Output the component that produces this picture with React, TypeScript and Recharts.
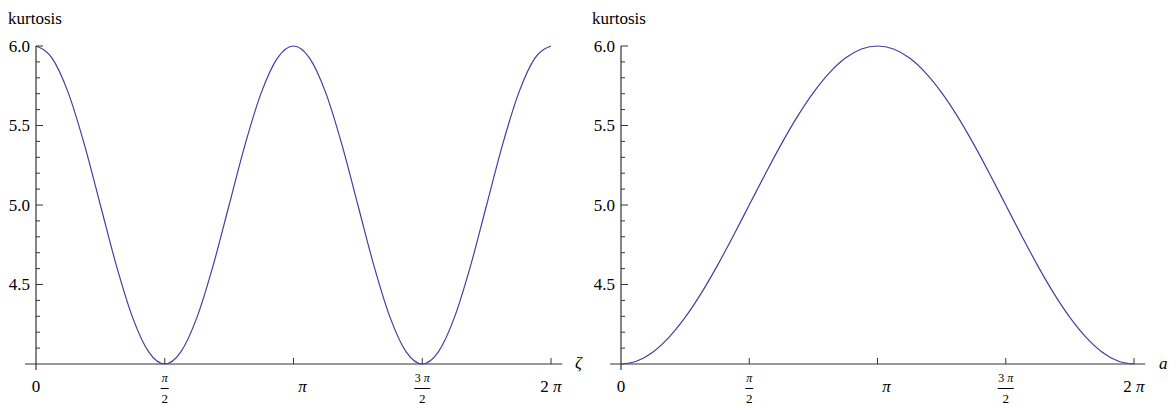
import React from 'react';
import { LineChart, Line, XAxis, YAxis, ReferenceLine } from 'recharts';

const PI = Math.PI;

// sample grid: 0 .. 2π in steps of π/16
const angles = Array.from({ length: 33 }, (_, i) => (i * PI) / 16);

// kurtosis as a function of ζ
const kurtosisZeta = [
  6.0, 5.924, 5.707, 5.383, 5.0, 4.617, 4.293, 4.076, 4.0, 4.076, 4.293, 4.617, 5.0, 5.383, 5.707, 5.924,
  6.0, 5.924, 5.707, 5.383, 5.0, 4.617, 4.293, 4.076, 4.0, 4.076, 4.293, 4.617, 5.0, 5.383, 5.707, 5.924,
  6.0,
];

// kurtosis as a function of a
const kurtosisA = [
  4.0, 4.019, 4.076, 4.169, 4.293, 4.444, 4.617, 4.805, 5.0, 5.195, 5.383, 5.556, 5.707, 5.831, 5.924, 5.981,
  6.0, 5.981, 5.924, 5.831, 5.707, 5.556, 5.383, 5.195, 5.0, 4.805, 4.617, 4.444, 4.293, 4.169, 4.076, 4.019,
  4.0,
];

const xTickValues = [0, PI / 2, PI, (3 * PI) / 2, 2 * PI];
const xTickLabels = ['0', 'π/2', 'π', '3 π/2', '2 π'];

const yMajorTicks = [4.5, 5.0, 5.5, 6.0];
const yMinorTicks = [4.1, 4.2, 4.3, 4.4, 4.6, 4.7, 4.8, 4.9, 5.1, 5.2, 5.3, 5.4, 5.6, 5.7, 5.8, 5.9];
const yTicks = [...yMinorTicks, ...yMajorTicks].sort((p, q) => p - q);

const FONT = "'Liberation Serif', 'Times New Roman', serif";
const AXIS = '#333';
const CURVE = '#4040a0';

// renders "π" italic inside a label string
const withPi = (s: string) =>
  s.split('π').flatMap((part, i) =>
    i === 0 ? [part] : [<tspan key={i} fontStyle="italic">π</tspan>, part]
  );

const XTick = (props: any) => {
  const { x, y, index, payload } = props;
  const label = xTickLabels[index] ?? String(payload.value);
  const [num, den] = label.split('/');
  const dx = label === 'π' ? 9 : 0;
  return (
    <g fontFamily={FONT} fill="#000">
      {payload.value !== 0 && <line x1={x} y1={y} x2={x} y2={y - 6} stroke={AXIS} />}
      {den ? (
        <>
          <text x={x} y={y + 18} textAnchor="middle" fontSize={12}>{withPi(num)}</text>
          <line x1={x - (num.length > 1 ? 8 : 4)} x2={x + (num.length > 1 ? 8 : 4)} y1={y + 24.5} y2={y + 24.5} stroke="#000" />
          <text x={x} y={y + 39} textAnchor="middle" fontSize={13}>{den}</text>
        </>
      ) : (
        <text x={x + dx} y={y + 28} textAnchor="middle" fontSize={17}>{withPi(label)}</text>
      )}
    </g>
  );
};

const YTick = (props: any) => {
  const { x, y, payload } = props;
  const major = yMajorTicks.includes(payload.value);
  return (
    <g fontFamily={FONT}>
      <line x1={x} y1={y} x2={x + (major ? 7 : 4)} y2={y} stroke={AXIS} />
      {major && (
        <text x={x - 6} y={y + 5.5} textAnchor="end" fontSize={17} fill="#000">
          {payload.value.toFixed(1)}
        </text>
      )}
    </g>
  );
};

interface PanelProps {
  values: number[];
  width: number;
  rightMargin: number;
}

const KurtosisPanel: React.FC<PanelProps> = ({ values, width, rightMargin }) => {
  const data = angles.map((t, i) => ({ t, k: values[i] }));
  return (
    <LineChart width={width} height={405} data={data} margin={{ top: 46, right: rightMargin, bottom: 0, left: 0 }}>
      <XAxis
        dataKey="t"
        type="number"
        domain={[0, 2 * PI]}
        ticks={xTickValues}
        interval={0}
        height={41}
        axisLine={false}
        tickLine={false}
        tickSize={0}
        tickMargin={0}
        tick={<XTick />}
      />
      <YAxis
        type="number"
        domain={[4, 6]}
        ticks={yTicks}
        interval={0}
        width={36}
        axisLine={false}
        tickLine={false}
        tickSize={0}
        tickMargin={0}
        tick={<YTick />}
      />
      <ReferenceLine segment={[{ x: -0.134, y: 4 }, { x: 6.42, y: 4 }]} ifOverflow="visible" stroke={AXIS} strokeWidth={1.2} />
      <ReferenceLine segment={[{ x: 0, y: 3.962 }, { x: 0, y: 6 }]} ifOverflow="visible" stroke={AXIS} strokeWidth={1.2} />
      <Line
        type="monotone"
        dataKey="k"
        stroke={CURVE}
        strokeWidth={1.2}
        dot={false}
        isAnimationActive={false}
      />
    </LineChart>
  );
};

const textStyle: React.CSSProperties = {
  position: 'absolute',
  fontFamily: FONT,
  fontSize: 17,
  lineHeight: '17px',
  color: '#000',
  whiteSpace: 'nowrap',
};

export default function App() {
  return (
    <div style={{ position: 'absolute', left: 0, top: 0, width: 1172, height: 405, background: '#fff' }}>
      <div style={{ position: 'absolute', left: 0, top: 0 }}>
        <KurtosisPanel values={kurtosisZeta} width={585} rightMargin={34} />
      </div>
      <div style={{ position: 'absolute', left: 585, top: 0 }}>
        <KurtosisPanel values={kurtosisA} width={587} rightMargin={38} />
      </div>
      <div style={{ ...textStyle, left: 8, top: 10 }}>kurtosis</div>
      <div style={{ ...textStyle, left: 592, top: 10 }}>kurtosis</div>
      <div style={{ ...textStyle, left: 575, top: 354, fontStyle: 'italic' }}>ζ</div>
      <div style={{ ...textStyle, left: 1159, top: 355, fontStyle: 'italic' }}>a</div>
    </div>
  );
}
